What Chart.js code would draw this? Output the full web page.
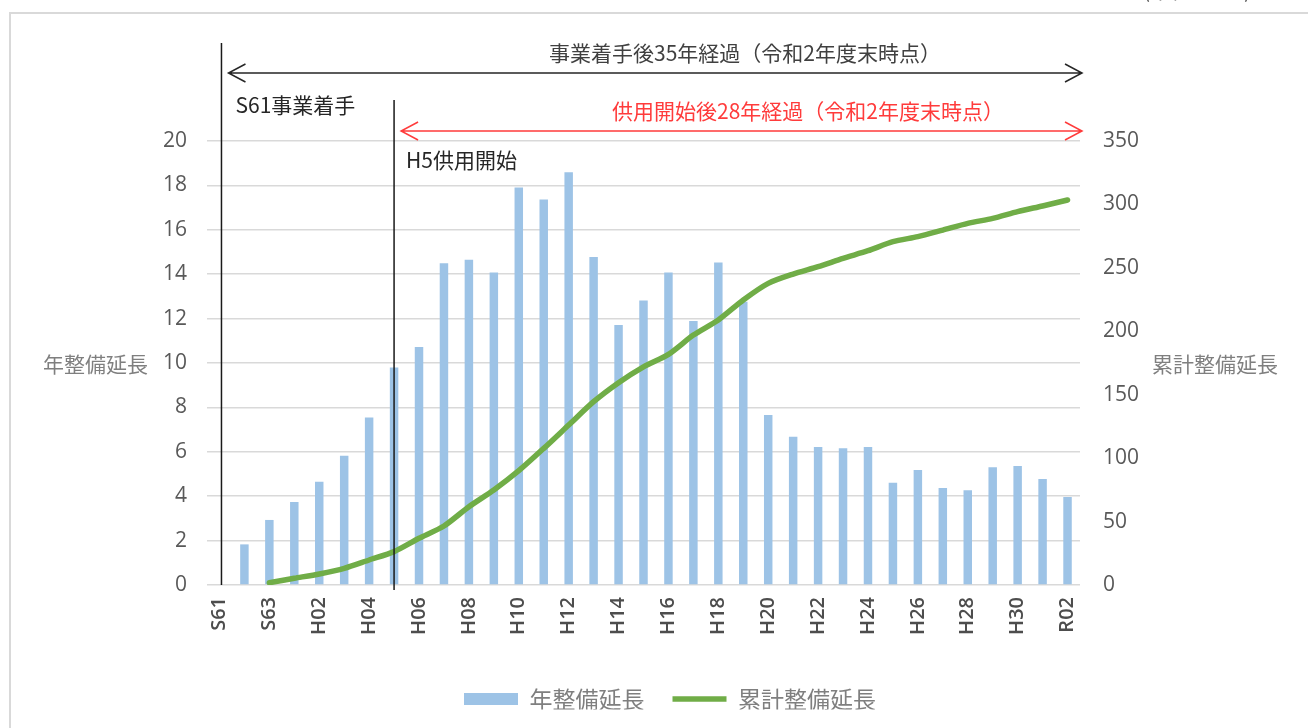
<!DOCTYPE html>
<html lang="ja">
<head>
<meta charset="utf-8">
<title>整備延長の推移</title>
<script src="https://cdn.jsdelivr.net/npm/chart.js@4.4.1/dist/chart.umd.min.js"></script>
<style>
  html, body { margin: 0; background: #fff; }
  #wrap { width: 1308px; height: 728px; }
</style>
</head>
<body>
<div id="wrap"><canvas id="chart" width="1308" height="728"></canvas></div>
<script>
const years = ['S61', 'S62', 'S63',
  'H01', 'H02', 'H03', 'H04', 'H05', 'H06', 'H07', 'H08', 'H09', 'H10',
  'H11', 'H12', 'H13', 'H14', 'H15', 'H16', 'H17', 'H18', 'H19', 'H20',
  'H21', 'H22', 'H23', 'H24', 'H25', 'H26', 'H27', 'H28', 'H29', 'H30',
  'R01', 'R02'];

// 年整備延長 (km)
const annualLength = [null, 1.83, 2.93,
  3.74, 4.65, 5.82, 7.55, 9.8, 10.72, 14.49, 14.65, 14.08, 17.9,
  17.37, 18.59, 14.77, 11.71, 12.81, 14.08, 11.89, 14.53, 12.76, 7.66,
  6.68, 6.22, 6.16, 6.22, 4.61, 5.18, 4.37, 4.27, 5.3, 5.36,
  4.77, 3.96];

// 累計整備延長 (km)
const cumulativeLength = [null, null, 1.8,
  5.3, 8.7, 13.1, 19.7, 26.3, 36.8, 46.5, 61.7, 74.9, 90.1,
  107.7, 126.1, 144.5, 159.5, 172, 181.8, 197, 208.9, 224.7, 237.8,
  245.1, 250.9, 257.5, 263.5, 270.6, 274.6, 279.8, 285.1, 289.0, 294.3,
  298.8, 303.5];

const startYear = 'S61';
const openYear = 'H05';

const jpFont = "'Noto Sans CJK JP', 'Noto Sans', sans-serif";
const numFont = "'Open Sans', 'Liberation Sans', sans-serif";

function drawArrow(ctx, x1, x2, y, color) {
  ctx.save();
  ctx.strokeStyle = color;
  ctx.lineWidth = 1.5;
  ctx.beginPath();
  ctx.moveTo(x1, y);
  ctx.lineTo(x2, y);
  ctx.moveTo(x1 + 17, y - 9);
  ctx.lineTo(x1, y);
  ctx.lineTo(x1 + 17, y + 9);
  ctx.moveTo(x2 - 17, y - 9);
  ctx.lineTo(x2, y);
  ctx.lineTo(x2 - 17, y + 9);
  ctx.stroke();
  ctx.restore();
}

function drawText(ctx, text, x, y, color, align) {
  ctx.save();
  ctx.font = '21px ' + jpFont;
  ctx.fillStyle = color;
  ctx.textAlign = align;
  ctx.textBaseline = 'middle';
  ctx.fillText(text, x, y);
  ctx.restore();
}

const annotations = {
  id: 'annotations',
  beforeDraw(chart) {
    const ctx = chart.ctx;
    ctx.save();
    ctx.strokeStyle = '#d9d9d9';
    ctx.lineWidth = 2;
    ctx.beginPath();
    ctx.moveTo(10, chart.height);
    ctx.lineTo(10, 13);
    ctx.lineTo(chart.width, 13);
    ctx.stroke();
    // 単位表記（上端で切れている）
    ctx.font = '21px ' + jpFont;
    ctx.fillStyle = '#595959';
    ctx.textAlign = 'center';
    ctx.textBaseline = 'alphabetic';
    ctx.fillText('(単位：km)', 1197, -2);
    ctx.restore();
  },
  afterDraw(chart) {
    const { ctx, chartArea } = chart;
    const x = chart.scales.x;
    const xStart = x.getPixelForValue(years.indexOf(startYear)) + 2;
    const xOpen = x.getPixelForValue(years.indexOf(openYear));

    // 事業着手・供用開始の縦線
    ctx.save();
    ctx.strokeStyle = '#1a1a1a';
    ctx.lineWidth = 1.5;
    ctx.beginPath();
    ctx.moveTo(xStart, 43);
    ctx.lineTo(xStart, chartArea.bottom);
    ctx.moveTo(xOpen, 100);
    ctx.lineTo(xOpen, chartArea.bottom + 5);
    ctx.stroke();
    ctx.restore();

    // 経過年数の矢印
    drawArrow(ctx, xStart + 7, chartArea.right + 2, 73, '#262626');
    drawArrow(ctx, xOpen + 7, chartArea.right + 2, 131, '#ff3b3b');

    drawText(ctx, '事業着手後35年経過（令和2年度末時点）', 745, 53, '#404040', 'center');
    drawText(ctx, '供用開始後28年経過（令和2年度末時点）', 808, 111, '#ff3b3b', 'center');
    drawText(ctx, 'S61事業着手', xStart + 14, 105, '#262626', 'left');
    drawText(ctx, 'H5供用開始', xOpen + 12, 160, '#262626', 'left');

    // 軸タイトル（横書き）
    const midY = (chartArea.top + chartArea.bottom) / 2;
    drawText(ctx, '年整備延長', 148, midY + 1, '#7f7f7f', 'right');
    drawText(ctx, '累計整備延長', 1152, midY + 1, '#7f7f7f', 'left');
  }
};

new Chart(document.getElementById('chart'), {
  type: 'bar',
  data: {
    labels: years,
    datasets: [
      {
        type: 'line',
        label: '累計整備延長',
        data: cumulativeLength,
        yAxisID: 'y1',
        borderColor: '#70ad47',
        backgroundColor: '#70ad47',
        borderWidth: 5.5,
        borderCapStyle: 'round',
        borderJoinStyle: 'round',
        pointRadius: 0,
        pointHoverRadius: 0,
        pointStyle: 'line',
        tension: 0.25,
        order: 0
      },
      {
        type: 'bar',
        label: '年整備延長',
        data: annualLength,
        yAxisID: 'y',
        backgroundColor: '#9dc3e6',
        borderWidth: 0,
        barPercentage: 0.34,
        categoryPercentage: 1,
        pointStyle: 'rect',
        order: 1
      }
    ]
  },
  options: {
    responsive: false,
    animation: false,
    layout: { padding: { top: 141, left: 32, right: 0, bottom: 18.5 } },
    plugins: {
      tooltip: { enabled: false },
      legend: {
        position: 'bottom',
        align: 'center',
        maxHeight: 50,
        reverse: true,
        labels: {
          usePointStyle: true,
          pointStyleWidth: 54,
          boxHeight: 12,
          padding: 28,
          color: '#7f7f7f',
          font: { family: jpFont, size: 23 }
        }
      }
    },
    scales: {
      x: {
        grid: { display: false, drawTicks: false },
        border: { display: false },
        afterFit(scale) { scale.height = 74.5; },
        ticks: {
          autoSkip: false,
          minRotation: 90,
          maxRotation: 90,
          padding: 12,
          color: '#4d4d4d',
          font: { family: numFont, size: 20, weight: '600' },
          callback(value, index) {
            return index % 2 === 0 ? this.getLabelForValue(value) : '';
          }
        }
      },
      y: {
        position: 'left',
        min: 0,
        max: 20,
        afterFit(scale) { scale.width = 175; },
        grid: { color: '#d9d9d9', lineWidth: 1.5, drawTicks: false },
        border: { display: false },
        ticks: {
          stepSize: 2,
          padding: 20,
          color: '#595959',
          font: { family: numFont, size: 21 }
        }
      },
      y1: {
        position: 'right',
        min: 0,
        max: 350,
        afterFit(scale) { scale.width = 228; },
        grid: { display: false, drawTicks: false },
        border: { display: false },
        ticks: {
          stepSize: 50,
          padding: 23,
          color: '#595959',
          font: { family: numFont, size: 21 }
        }
      }
    }
  },
  plugins: [annotations]
});
</script>
</body>
</html>
